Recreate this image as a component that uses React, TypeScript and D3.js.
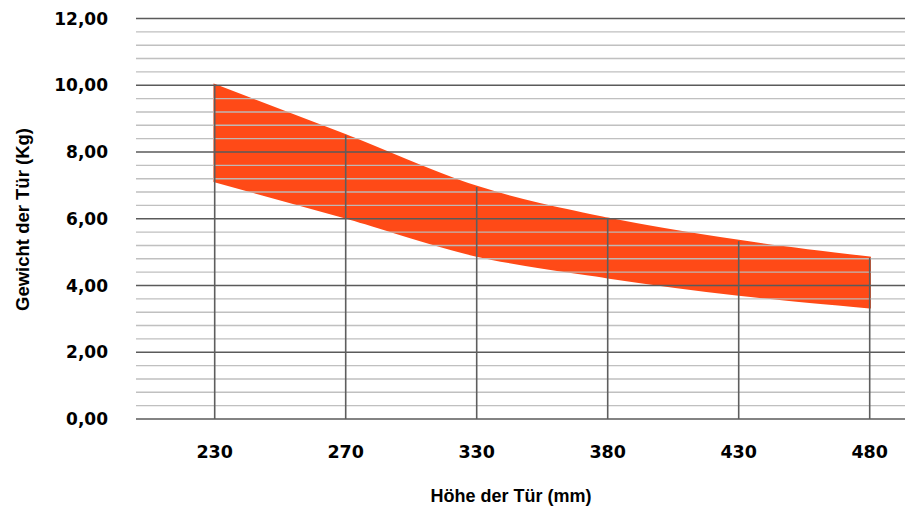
import React from "react";
import * as d3 from "d3";

const categories = ["230", "270", "330", "380", "430", "480"];
const upperValues = [10.0, 8.5, 6.95, 6.0, 5.33, 4.83];
const lowerValues = [7.13, 6.04, 4.9, 4.25, 3.73, 3.35];
const majorTicks = [0, 2, 4, 6, 8, 10, 12];
const minorTicks = d3.range(0, 12.0001, 0.4).filter((v) => Math.abs(v / 2 - Math.round(v / 2)) > 1e-6);
const xTitle = "Höhe der Tür (mm)";
const yTitle = "Gewicht der Tür (Kg)";

const W = 905;
const H = 508;
const gridLeft = 136;
const gridRight = 905;

export default function App() {
  const x = d3.scalePoint<string>().domain(categories).range([214.7, 869.7]);
  const y = d3.scaleLinear().domain([0, 12]).range([419, 18.5]);
  const data = categories.map((c, i) => ({ c, lo: lowerValues[i], hi: upperValues[i] }));
  const area = d3
    .area<{ c: string; lo: number; hi: number }>()
    .x((d) => x(d.c) as number)
    .y0((d) => y(d.lo))
    .y1((d) => y(d.hi))
    .curve(d3.curveMonotoneX);
  const fmt = (v: number) => v.toFixed(2).replace(".", ",");
  return (
    <svg width={W} height={H} style={{ position: "absolute", left: 0, top: 0, background: "#fff" }}>
      <path d={area(data) || ""} fill="#FF4A17" stroke="#FF4A17" strokeWidth={2.5} strokeLinejoin="miter" />
      {minorTicks.map((v) => (
        <line key={"mi" + v} x1={gridLeft} x2={gridRight} y1={y(v)} y2={y(v)} stroke="#BDBDBD" strokeWidth={1.4} opacity={0.95} />
      ))}
      {majorTicks.map((v) => (
        <line key={"ma" + v} x1={gridLeft} x2={gridRight} y1={y(v)} y2={y(v)} stroke="#5A5A5A" strokeWidth={1.6} />
      ))}
      {data.map((d) => (
        <line key={"v" + d.c} x1={x(d.c)} x2={x(d.c)} y1={y(d.hi)} y2={y(0)} stroke="#5E5E5E" strokeWidth={1.6} />
      ))}
      {majorTicks.map((v) => (
        <text
          key={"yl" + v}
          x={108}
          y={y(v)}
          dy="0.36em"
          textAnchor="end"
          fontFamily="'DejaVu Sans', sans-serif"
          fontWeight="bold"
          fontSize={17}
          fill="#000"
        >
          {fmt(v)}
        </text>
      ))}
      {categories.map((c) => (
        <text
          key={"xl" + c}
          x={x(c)}
          y={458}
          textAnchor="middle"
          fontFamily="'DejaVu Sans', sans-serif"
          fontWeight="bold"
          fontSize={17.5}
          fill="#000"
        >
          {c}
        </text>
      ))}
      <text x={511} y={501.5} textAnchor="middle" fontFamily="'Liberation Sans', Arial, sans-serif" fontWeight="bold" fontSize={18} fill="#000">
        {xTitle}
      </text>
      <text
        transform={`translate(28.5,219.5) rotate(-90)`}
        textAnchor="middle"
        fontFamily="'Liberation Sans', Arial, sans-serif"
        fontWeight="bold"
        fontSize={18.5}
        fill="#000"
      >
        {yTitle}
      </text>
    </svg>
  );
}
